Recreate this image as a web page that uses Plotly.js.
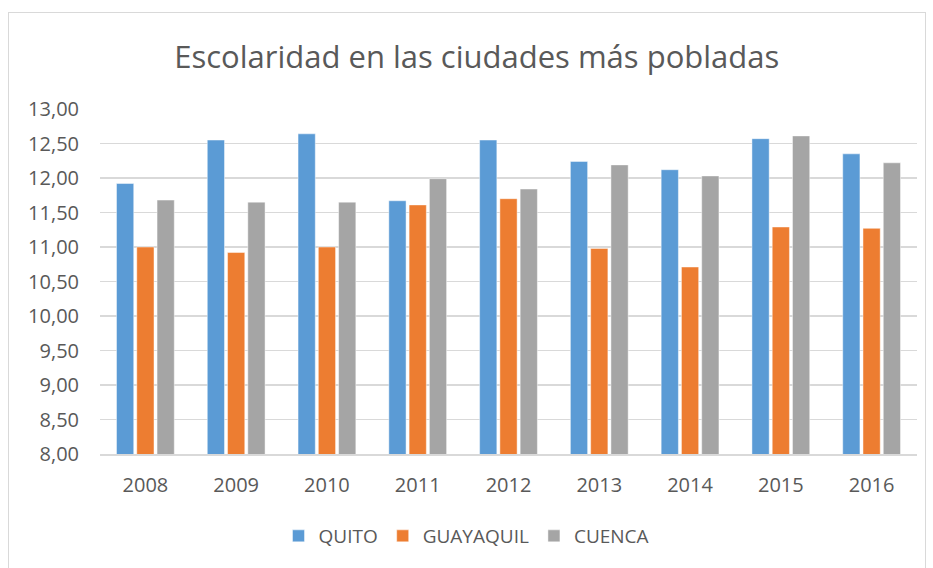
<!DOCTYPE html>
<html>
<head>
<meta charset="utf-8">
<script src="https://cdn.plot.ly/plotly-3.0.1.min.js"></script>
<style>
  html, body { margin: 0; padding: 0; background: #ffffff; }
  #wrap { position: relative; width: 933px; height: 568px; }
  #chart { width: 933px; height: 568px; }
  #frame { position: absolute; left: 8px; top: 12px; width: 918px; height: 570px;
           border: 1.5px solid #d9d9d9; pointer-events: none; box-sizing: border-box; }
</style>
</head>
<body>
<div id="wrap">
  <div id="chart"></div>
  <div id="frame"></div>
</div>
<script>
const years = ['2008', '2009', '2010', '2011', '2012', '2013', '2014', '2015', '2016'];
const quito = [11.92, 12.55, 12.64, 11.67, 12.55, 12.24, 12.12, 12.57, 12.35];
const guayaquil = [11.00, 10.92, 11.00, 11.61, 11.70, 10.98, 10.71, 11.29, 11.27];
const cuenca = [11.68, 11.65, 11.65, 11.99, 11.84, 12.19, 12.03, 12.61, 12.22];
const yTicks = [8, 8.5, 9, 9.5, 10, 10.5, 11, 11.5, 12, 12.5, 13];

const font = 'Open Sans, Noto Sans, sans-serif';
function series(name, vals, color) {
  return {
    type: 'bar', name: name, x: years, y: vals,
    marker: { color: color, line: { color: 'rgba(255,255,255,0.45)', width: 1 } },
    hoverinfo: 'x+y+name'
  };
}

const data = [
  series('QUITO', quito, '#5B9BD5'),
  series('GUAYAQUIL', guayaquil, '#ED7D31'),
  series('CUENCA', cuenca, '#A5A5A5')
];

const layout = {
  width: 933, height: 568,
  margin: { l: 100, r: 16, t: 109, b: 114 },
  paper_bgcolor: '#ffffff', plot_bgcolor: '#ffffff',
  separators: ',.',
  barmode: 'group', bargap: 0.33, bargroupgap: 0.15,
  title: {
    text: 'Escolaridad en las ciudades más pobladas',
    font: { family: font, size: 31, color: '#595959' },
    x: 0.511, xanchor: 'center', xref: 'container',
    y: 0.8996, yref: 'container', yanchor: 'middle'
  },
  xaxis: {
    type: 'category',
    tickfont: { family: font, size: 20, color: '#595959' },
    showgrid: false, showline: true, linecolor: '#d9d9d9', linewidth: 1.5,
    ticks: '', ticklabelstandoff: 12, zeroline: false
  },
  yaxis: {
    range: [8, 13], tickvals: yTicks, tickformat: '.2f',
    tickfont: { family: font, size: 20, color: '#595959' },
    showgrid: true, gridcolor: '#d9d9d9', gridwidth: 1.5,
    showline: false, zeroline: false, ticks: '', ticklabelstandoff: 20
  },
  legend: {
    orientation: 'h', x: 0.5, xanchor: 'center', xref: 'container',
    y: 0.0563, yref: 'container', yanchor: 'middle',
    font: { family: font, size: 19, color: '#595959' },
    itemwidth: 30, traceorder: 'normal'
  },
  showlegend: true
};

Plotly.newPlot('chart', data, layout, { displayModeBar: false, staticPlot: true });
</script>
</body>
</html>
